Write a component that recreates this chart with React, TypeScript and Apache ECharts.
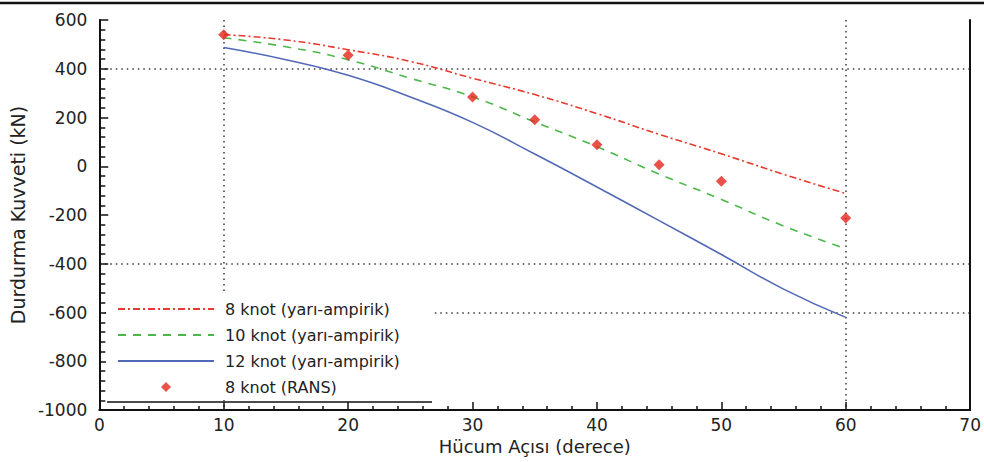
import React, { useEffect, useRef } from "react";
import * as echarts from "echarts";

const angles = [10, 15, 20, 25, 30, 35, 40, 45, 50, 55, 60];
const knot8 = [540, 518, 478, 430, 361, 294, 216, 131, 51, -33, -112];
const knot10 = [527, 490, 437, 361, 285, 182, 80, -32, -136, -245, -338];
const knot12 = [487, 437, 373, 284, 180, 50, -85, -223, -362, -504, -620];
const ransAngles = [10, 20, 30, 35, 40, 45, 50, 60];
const rans = [540, 455, 284, 191, 88, 6, -62, -212];

const names = [
  "8 knot (yarı-ampirik)",
  "10 knot (yarı-ampirik)",
  "12 knot (yarı-ampirik)",
  "8 knot (RANS)",
];

const pair = (xs: number[], ys: number[]) => xs.map((x, i) => [x, ys[i]]);

const FONT = "DejaVu Sans";
const GRID = "#3a3a3a";
const T = "rgba(0,0,0,0)";

export default function App() {
  const ref = useRef<HTMLDivElement>(null);
  useEffect(() => {
    if (!ref.current) return;
    const chart = echarts.init(ref.current, null, { renderer: "svg" });
    const hidden = { color: T, opacity: 0, borderWidth: 0 };
    chart.setOption({
      animation: false,
      backgroundColor: "#ffffff",
      textStyle: { fontFamily: FONT },
      grid: { left: 95, right: 12, top: 20, bottom: 52 },
      legend: {
        orient: "vertical",
        left: 112,
        top: 296,
        itemWidth: 96,
        itemHeight: 10,
        itemGap: 10,
        symbolKeepAspect: true,
        textStyle: { fontFamily: FONT, fontSize: 16, color: "#222", padding: [0, 0, 0, 6] },
        data: [
          { name: names[0], itemStyle: hidden },
          { name: names[1], itemStyle: hidden },
          { name: names[2], itemStyle: hidden },
          { name: names[3], icon: "path://M5,0L10,5L5,10L0,5Z" },
        ],
      },
      xAxis: {
        type: "value",
        min: 0,
        max: 70,
        interval: 10,
        name: "Hücum Açısı (derece)",
        nameLocation: "middle",
        nameGap: 26,
        nameTextStyle: { fontFamily: FONT, fontSize: 18, color: "#222" },
        axisLine: { show: true, onZero: false, lineStyle: { color: "#111", width: 2 } },
        axisTick: { show: true, inside: true, length: 8, lineStyle: { color: "#111", width: 1.5 } },
        minorTick: { show: true, splitNumber: 5, length: 4, lineStyle: { color: "#111", width: 1.5 } },
        axisLabel: { fontFamily: FONT, fontSize: 17, color: "#222", margin: 6 },
        splitLine: {
          show: true,
          lineStyle: { color: [T, GRID, T, T, T, T, GRID, T], type: [1.5, 4], width: 1.5 },
        },
      },
      yAxis: [
        {
          type: "value",
          min: -1000,
          max: 600,
          interval: 200,
          name: "Durdurma Kuvveti (kN)",
          nameLocation: "middle",
          nameGap: 70,
          nameTextStyle: { fontFamily: FONT, fontSize: 19, color: "#222" },
          axisLine: { show: true, onZero: false, lineStyle: { color: "#111", width: 2 } },
          axisTick: { show: true, inside: true, length: 9, lineStyle: { color: "#111", width: 1.5 } },
          minorTick: { show: true, splitNumber: 5, length: 6, lineStyle: { color: "#111", width: 1.5 } },
          axisLabel: {
            fontFamily: FONT,
            fontSize: 17,
            color: "#222",
            margin: 12,
            formatter: (v: number) => String(v),
          },
          splitLine: {
            show: true,
            lineStyle: {
              color: [T, T, GRID, GRID, T, T, T, GRID, T],
              type: [1.5, 4],
              width: 1.5,
            },
          },
        },
        {
          type: "value",
          min: -1000,
          max: 600,
          interval: 200,
          position: "right",
          axisLine: { show: true, onZero: false, lineStyle: { color: "#111", width: 2 } },
          axisTick: { show: false },
          axisLabel: { show: false },
          splitLine: { show: false },
        },
      ],
      series: [
        {
          name: names[0],
          type: "line",
          smooth: true,
          symbol: "none",
          data: pair(angles, knot8),
          lineStyle: { color: "#e8392e", width: 1.6, type: [7, 3, 2, 3] },
          itemStyle: { color: "#e8392e" },
          z: 3,
        },
        {
          name: names[1],
          type: "line",
          smooth: true,
          symbol: "none",
          data: pair(angles, knot10),
          lineStyle: { color: "#4cb84c", width: 1.6, type: [8, 7] },
          itemStyle: { color: "#4cb84c" },
          z: 3,
        },
        {
          name: names[2],
          type: "line",
          smooth: true,
          symbol: "none",
          data: pair(angles, knot12),
          lineStyle: { color: "#5269b6", width: 1.6 },
          itemStyle: { color: "#5269b6" },
          z: 3,
        },
        {
          name: names[3],
          type: "scatter",
          symbol: "diamond",
          symbolSize: 11,
          symbolKeepAspect: true,
          data: pair(ransAngles, rans),
          itemStyle: { color: "#e3261c" },
          z: 5,
        },
      ],
      graphic: [
        {
          type: "rect",
          z: 1,
          shape: { x: 106, y: 292, width: 326, height: 108 },
          style: { fill: "#ffffff" },
        },
        {
          type: "line",
          z: 2,
          shape: { x1: 0, y1: 3, x2: 984, y2: 3 },
          style: { stroke: "#111", lineWidth: 2.5 },
        },
        {
          type: "line",
          z: 2,
          shape: { x1: 107, y1: 402, x2: 432, y2: 402 },
          style: { stroke: "#111", lineWidth: 1.5 },
        },
      ],
    });
    return () => chart.dispose();
  }, []);
  return <div ref={ref} style={{ width: 984, height: 462, position: "absolute", left: 0, top: 0 }} />;
}
